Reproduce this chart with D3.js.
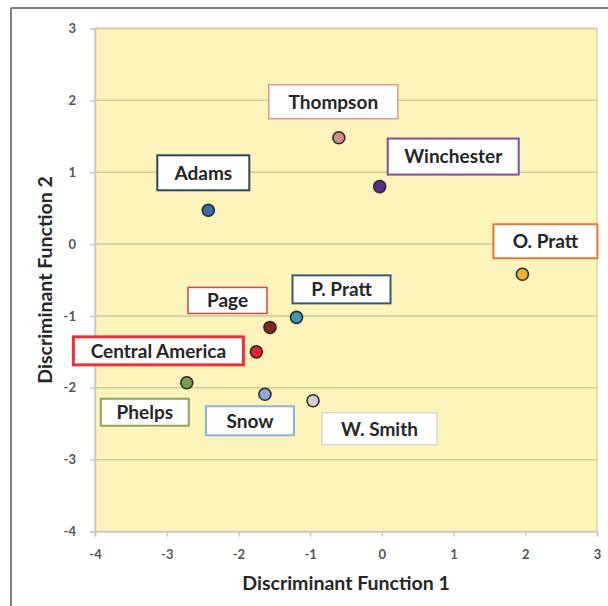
<!DOCTYPE html>
<html><head><meta charset="utf-8">
<script src="https://cdn.jsdelivr.net/npm/d3@7"></script>
<style>html,body{margin:0;padding:0;background:#fff;}svg{display:block;}</style>
</head><body>
<script>
// ---- data ----
const names = ["Thompson","Winchester","Adams","O. Pratt","P. Pratt","Page","Central America","Phelps","Snow","W. Smith"];
const df1 = [-0.60,-0.03,-2.42,1.96,-1.19,-1.56,-1.75,-2.72,-1.63,-0.96];
const df2 = [1.48,0.80,0.47,-0.42,-1.02,-1.16,-1.50,-1.93,-2.09,-2.18];
const xTicks = [-4,-3,-2,-1,0,1,2,3];
const yTicks = [-4,-3,-2,-1,0,1,2,3];

// ---- styles / layout ----
const pointFill = ["#d08a88","#5a2d8c","#3f6aa6","#f2b233","#3c98b8","#8c2226","#e2232e","#789e4e","#8ea7d8","#d4cfd6"];
const boxStroke = ["#d89a8c","#7c4f9e","#2f4658","#e07a3a","#3b586c","#c0504d","#e5333a","#8ea35c","#8db2de","#d6d6d6"];
const boxStrokeW = [1.5,2,2,2,2,1.5,3,2,2,1.5];
// label box offsets (px) from the point, and box size
const lblDx = [-5.5,73.5,-5,23,45,-42.5,-98,-42,-15,66.5];
const lblDy = [-36,-30,-37.5,-33,-28,-27,-1,29.5,26.5,28];
const lblW = [129,131,92,104,98,79,170,88,88,115];
const lblH = [34,36,35,34,28,26,28,27,29,32];

const W = 608, H = 606;
const m = {left:95, right:597, top:28.5, bottom:531.5};
const FONT = "Lato, sans-serif";

const svg = d3.select("body").append("svg").attr("width",W).attr("height",H);

// outer frame
svg.append("line").attr("x1",11).attr("x2",W).attr("y1",8).attr("y2",8).attr("stroke","#7f7f7f").attr("stroke-width",2);
svg.append("line").attr("x1",11).attr("x2",11).attr("y1",8).attr("y2",H).attr("stroke","#7f7f7f").attr("stroke-width",2);

const x = d3.scaleLinear().domain([-4,3]).range([m.left,m.right]);
const y = d3.scaleLinear().domain([-4,3]).range([m.bottom,m.top]);

// plot background
svg.append("rect").attr("x",m.left).attr("y",m.top).attr("width",m.right-m.left).attr("height",m.bottom-m.top)
  .attr("fill","#fcf4bb").attr("stroke","#d9d5b0").attr("stroke-width",1.5);

// gridlines
svg.append("g").selectAll("line").data(yTicks.filter(t=>t>-4)).join("line")
  .attr("x1",m.left).attr("x2",m.right).attr("y1",d=>y(d)).attr("y2",d=>y(d))
  .attr("stroke","#cdc99a").attr("stroke-width",1.5);

// axes
const fmt = d=>String(d);
const xAxis = svg.append("g").attr("transform",`translate(0,${m.bottom})`)
  .call(d3.axisBottom(x).tickValues(xTicks).tickSize(5).tickPadding(13).tickFormat(fmt));
const yAxis = svg.append("g").attr("transform",`translate(${m.left},0)`)
  .call(d3.axisLeft(y).tickValues(yTicks).tickSize(5).tickPadding(14).tickFormat(fmt));
[xAxis,yAxis].forEach(a=>{
  a.select(".domain").attr("stroke","#c8c8c8").attr("stroke-width",1.5);
  a.selectAll(".tick line").attr("stroke","#c8c8c8").attr("stroke-width",1.5);
  a.selectAll(".tick text").attr("fill","#555").attr("font-family",FONT).attr("font-size",13).attr("font-weight","bold");
});

// axis titles
svg.append("text").attr("x",346).attr("y",590).attr("text-anchor","middle")
  .attr("font-family",FONT).attr("font-weight","bold").attr("font-size",19.5).attr("fill","#262626")
  .text("Discriminant Function 1");
svg.append("text").attr("transform","translate(52,280) rotate(-90)").attr("text-anchor","middle")
  .attr("font-family",FONT).attr("font-weight","bold").attr("font-size",19.5).attr("fill","#262626")
  .text("Discriminant Function 2");

const idx = d3.range(names.length);

// label boxes
const lg = svg.append("g").selectAll("g").data(idx).join("g")
  .attr("transform",i=>`translate(${x(df1[i])+lblDx[i]},${y(df2[i])+lblDy[i]})`);
lg.append("rect").attr("x",i=>-lblW[i]/2).attr("y",i=>-lblH[i]/2).attr("width",i=>lblW[i]).attr("height",i=>lblH[i])
  .attr("fill","#fff").attr("stroke",i=>boxStroke[i]).attr("stroke-width",i=>boxStrokeW[i]);
lg.append("text").attr("text-anchor","middle").attr("dy","0.36em")
  .attr("font-family",FONT).attr("font-weight","bold").attr("font-size",19).attr("fill","#262626")
  .text(i=>names[i]);

// points
svg.append("g").selectAll("circle").data(idx).join("circle")
  .attr("cx",i=>x(df1[i])).attr("cy",i=>y(df2[i])).attr("r",6)
  .attr("fill",i=>pointFill[i]).attr("stroke","#2b2b2b").attr("stroke-width",1.6);
</script>
</body></html>
